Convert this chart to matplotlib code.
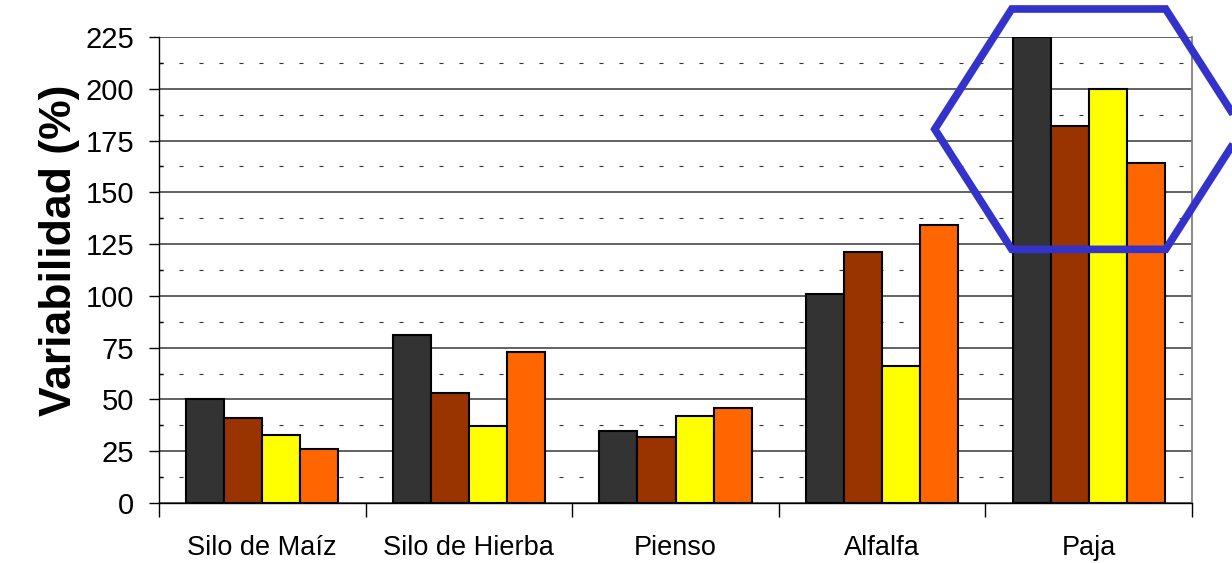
#!/usr/bin/env python3

import matplotlib

matplotlib.use("Agg")

import matplotlib.pyplot as plt
import numpy as np
from matplotlib.patches import Polygon
from matplotlib.ticker import MultipleLocator


CATEGORIES = ["Silo de Maíz", "Silo de Hierba", "Pienso", "Alfalfa", "Paja"]

SERIES_1 = [50, 81, 35, 101, 225]
SERIES_2 = [41, 53, 32, 121, 182]
SERIES_3 = [33, 37, 42, 66, 200]
SERIES_4 = [26, 73, 46, 134, 164]

SERIES_COLORS = ["#333333", "#993300", "#FFFF00", "#FF6600"]

Y_LABEL = "Variabilidad (%)"
HIGHLIGHT = "Paja"

plt.rcParams["font.family"] = ["Liberation Sans", "DejaVu Sans"]


def main() -> None:
    fig = plt.figure(figsize=(12.32, 5.63), dpi=100)
    ax = fig.add_axes([159 / 1232, 60 / 563, 1033 / 1232, 466 / 563])

    series = [SERIES_1, SERIES_2, SERIES_3, SERIES_4]
    x = np.arange(len(CATEGORIES))
    bar_width = 0.184
    offsets = (np.arange(len(series)) - (len(series) - 1) / 2) * bar_width

    for values, offset, color in zip(series, offsets, SERIES_COLORS):
        ax.bar(
            x + offset,
            values,
            width=bar_width,
            color=color,
            edgecolor="black",
            linewidth=1.5,
            zorder=3,
        )

    ax.set_xlim(-0.5, len(CATEGORIES) - 0.5)
    ax.set_ylim(0, 225)

    # y axis: majors every 25 outside, minors every 12.5 inside
    ax.yaxis.set_major_locator(MultipleLocator(25))
    ax.yaxis.set_minor_locator(MultipleLocator(12.5))
    ax.tick_params(axis="y", which="major", direction="out", length=7,
                   width=1.0, labelsize=21, pad=11)
    ax.tick_params(axis="y", which="minor", direction="in", length=3, width=1.0)

    ax.grid(True, axis="y", which="major", color="#555555", linewidth=1.3, zorder=0)
    ax.grid(True, axis="y", which="minor", color="#333333", linewidth=0.8,
            linestyle=(0, (3.6, 14.4)), zorder=0)

    # x axis: labels centred, ticks at category boundaries
    ax.set_xticks(x)
    ax.set_xticklabels(CATEGORIES)
    ax.set_xticks(np.arange(len(CATEGORIES) + 1) - 0.5, minor=True)
    ax.tick_params(axis="x", which="major", length=0, labelsize=19.5, pad=23)
    ax.tick_params(axis="x", which="minor", direction="out", length=10, width=1.0)

    ax.spines["top"].set_visible(False)
    ax.spines["right"].set_color("#808080")
    ax.spines["right"].set_linewidth(1.3)
    ax.spines["left"].set_linewidth(1.0)
    ax.spines["bottom"].set_linewidth(1.0)
    ax.set_axisbelow(True)

    ax.set_ylabel(Y_LABEL, fontsize=32, fontweight="bold")
    ax.yaxis.set_label_coords(-0.0765, 0.543)

    # hexagon highlighting the last group
    cx = CATEGORIES.index(HIGHLIGHT)
    cy = 180.5
    angles = np.deg2rad(np.arange(0, 360, 60))
    hexagon = np.column_stack([cx + 0.745 * np.cos(angles), cy + 67 * np.sin(angles)])
    ax.add_patch(
        Polygon(hexagon, closed=True, fill=False, edgecolor="#3333CC",
                linewidth=5.5, joinstyle="miter", clip_on=False, zorder=5)
    )

    fig.savefig("out.png", dpi=100)
    plt.close(fig)


if __name__ == "__main__":
    main()
